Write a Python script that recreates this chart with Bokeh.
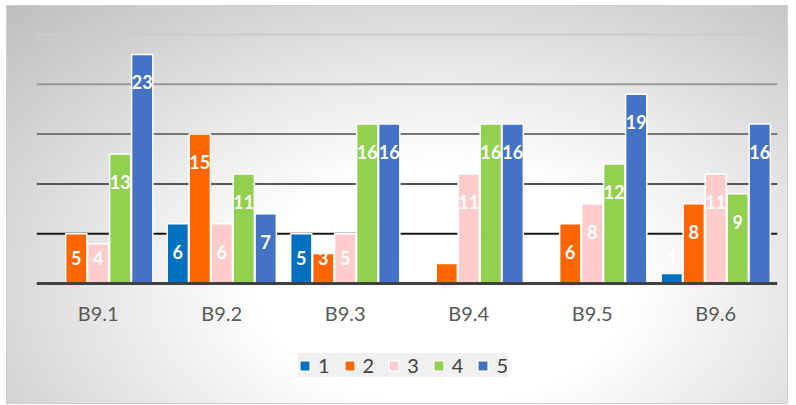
from bokeh.plotting import figure
from bokeh.models import ColumnDataSource, Range1d, Span, Legend, LegendItem
from bokeh.transform import dodge
from bokeh.core.properties import value
from bokeh.embed import file_html
from bokeh.resources import INLINE

categories = ["B9.1", "B9.2", "B9.3", "B9.4", "B9.5", "B9.6"]
series_names = ["1", "2", "3", "4", "5"]
s1 = [0, 6, 5, 0, 0, 1]
s2 = [5, 15, 3, 2, 6, 8]
s3 = [4, 6, 5, 11, 8, 11]
s4 = [13, 11, 16, 16, 12, 9]
s5 = [23, 7, 16, 16, 19, 16]
series_values = [s1, s2, s3, s4, s5]
colors = ["#0070C0", "#FF6600", "#FFCCCC", "#92D050", "#4472C4"]
# data labels that are not shown in the original (series index, category)
hidden_labels = [(1, "B9.4")]
grid_values = [5, 10, 15, 20, 25]
grid_colors = ["#1a1a1a", "#555555", "#777777", "#999999", "#cccccc"]

# frame covers the axis and legend area too; the axis is pinned at y=0
p = figure(x_range=categories, y_range=Range1d(-12.15, 25.4), width=782, height=399,
           output_backend="svg", toolbar_location=None,
           min_border_left=30, min_border_right=11, min_border_top=25, min_border_bottom=0)
p.border_fill_color = None
p.background_fill_color = None
p.outline_line_color = None
p.styles = {"background": "radial-gradient(ellipse at 56% 70%, #ffffff 0%, #ffffff 30%, #bdbdbd 100%)",
            "outline": "1px solid #cfcfcf", "outline-offset": "-1px",
            "margin-left": "6px", "margin-top": "5px"}

p.yaxis.visible = False
p.xgrid.grid_line_color = None
p.ygrid.grid_line_color = None

for gv, gc in zip(grid_values, grid_colors):
    p.add_layout(Span(location=gv, dimension="width", line_color=gc, line_width=2, level="underlay"))

p.xaxis.fixed_location = 0
p.xaxis.axis_line_color = "#404040"
p.xaxis.axis_line_width = 3
p.xaxis.major_tick_line_color = None
p.xaxis.minor_tick_line_color = None
p.xaxis.major_label_text_font = "Lato"
p.xaxis.major_label_text_font_size = "20px"
p.xaxis.major_label_text_color = "#595959"
p.xaxis.major_label_standoff = 12

step = 0.178
items = []
for i, (name, vals, col) in enumerate(zip(series_names, series_values, colors)):
    off = (i - 2) * step
    labels = []
    for c, v in zip(categories, vals):
        labels.append("" if (v <= 0 or (i, c) in hidden_labels) else str(v))
    label_y = [max(v - 2.8, 2.6) for v in vals]
    src = ColumnDataSource(dict(cat=categories, v=vals, lab=labels, ly=label_y))
    r = p.vbar(x=dodge("cat", off, range=p.x_range), top="v", bottom=0, width=0.172,
               source=src, fill_color=col, line_color="white", line_width=1.5)
    p.text(x=dodge("cat", off, range=p.x_range), y="ly", text="lab", source=src,
           text_color="white", text_font=value("Lato"), text_font_style="bold",
           text_font_size="18px", text_align="center", text_baseline="middle")
    items.append(LegendItem(label=name, renderers=[r]))

legend = Legend(items=items, orientation="horizontal", location=(262, 27))
legend.background_fill_color = "#f0f0f0"
legend.background_fill_alpha = 1.0
legend.border_line_color = None
legend.glyph_width = 13
legend.glyph_height = 13
legend.label_width = 11
legend.label_text_font = "Lato"
legend.label_text_font_size = "20px"
legend.label_text_color = "#404040"
legend.label_standoff = 7
legend.spacing = 13
legend.padding = 14
legend.margin = 0
p.add_layout(legend, "center")

open("out.html", "w").write(file_html(p, INLINE))
